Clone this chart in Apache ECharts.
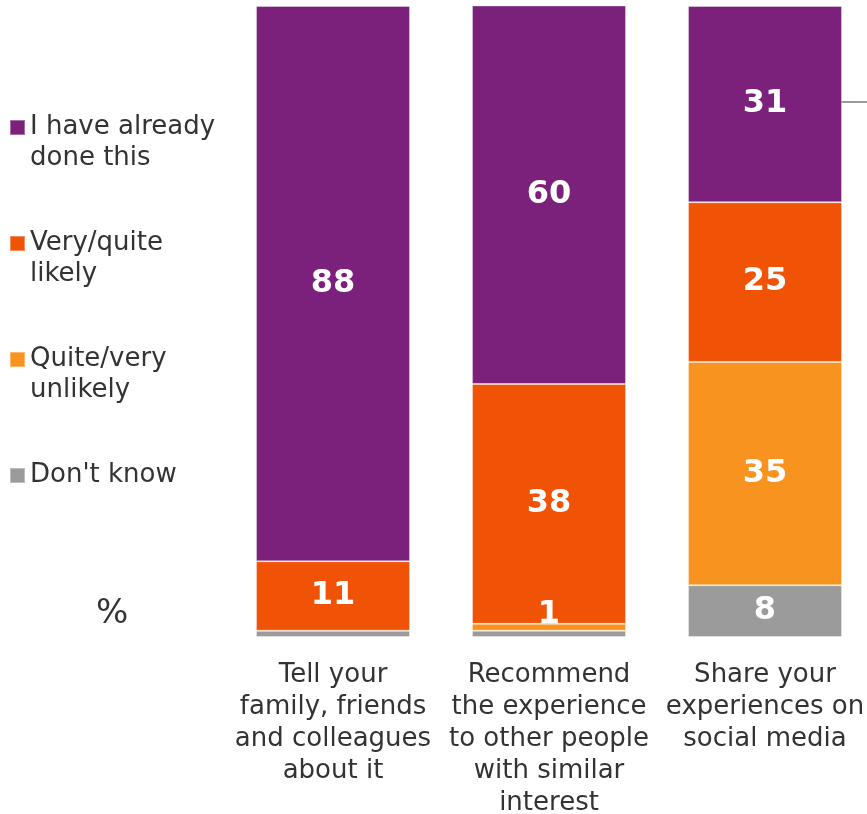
<!DOCTYPE html>
<html>
<head>
<meta charset="utf-8">
<script src="https://cdn.jsdelivr.net/npm/echarts@6/dist/echarts.min.js"></script>
<style>
  html, body { margin: 0; padding: 0; background: #fff; }
  #chart { width: 867px; height: 814px; }
</style>
</head>
<body>
<div id="chart"></div>
<script>
const categories = [
  'Tell your\nfamily, friends\nand colleagues\nabout it',
  'Recommend\nthe experience\nto other people\nwith similar\ninterest',
  'Share your\nexperiences on\nsocial media'
]
const seriesNames = ['I have already\ndone this', 'Very/quite\nlikely', 'Quite/very\nunlikely', "Don't know"]
const alreadyDone = [88, 60, 31.1]
const likely = [11, 38, 25.3]
const unlikely = [0, 1.1, 35.4]
const dontKnow = [1, 1, 8.2]
const colors = ['#7B217C', '#F05206', '#F7931E', '#9B9B9B']

const FONT = "'DejaVu Sans', Verdana, sans-serif"
const chart = echarts.init(document.getElementById('chart'))

function labelCfg(minShow) {
  return {
    show: true,
    position: 'inside',
    color: '#fff',
    fontFamily: FONT,
    fontWeight: 'bold',
    fontSize: 32,
    formatter: p => (p.value >= minShow ? Math.round(p.value) : '')
  }
}

// stacked from the bottom: don't know, unlikely, likely, already done
const dataSets = [alreadyDone, likely, unlikely, dontKnow]
const series = [3, 2, 1, 0].map(i => ({
  name: seriesNames[i],
  type: 'bar',
  stack: 'total',
  barWidth: 154,
  data: dataSets[i].map(v => (i === 2 && v > 0 && v < 3
    ? { value: v, label: { position: 'insideBottom', distance: 0 } }
    : v)),
  itemStyle: { color: colors[i], borderColor: 'rgba(255,255,255,0.35)', borderWidth: 1 },
  label: labelCfg(i === 3 ? 2 : 0.5)
}))

const option = {
  animation: false,
  grid: { left: 225, top: 6, width: 648, height: 631, containLabel: false, outerBoundsMode: 'none' },
  legend: {
    orient: 'vertical',
    left: 4,
    top: 76,
    itemWidth: 15,
    itemHeight: 15,
    itemGap: 23,
    icon: 'rect',
    selectedMode: false,
    // a blank line above (and below for one-liners) keeps the marker beside the first line
    formatter: name => ' \n' + name + (name.indexOf('\n') < 0 ? '\n ' : ''),
    textStyle: { fontFamily: FONT, fontSize: 26, color: '#333', lineHeight: 31 },
    data: seriesNames
  },
  xAxis: {
    type: 'category',
    data: categories,
    axisTick: { show: false },
    axisLine: { show: false },
    axisLabel: {
      interval: 0,
      margin: 22,
      fontFamily: FONT,
      fontSize: 26,
      lineHeight: 32,
      color: '#333'
    }
  },
  yAxis: {
    type: 'value',
    min: 0,
    max: 100,
    show: false,
    splitLine: { show: false }
  },
  graphic: [
    { type: 'text', left: 96, top: 597, style: { text: '%', fontFamily: FONT, fontSize: 34, fill: '#333' } },
    { type: 'line', shape: { x1: 840, y1: 102, x2: 867, y2: 102 }, style: { stroke: '#999', lineWidth: 2 } }
  ],
  series: series
}

chart.setOption(option)
</script>
</body>
</html>
